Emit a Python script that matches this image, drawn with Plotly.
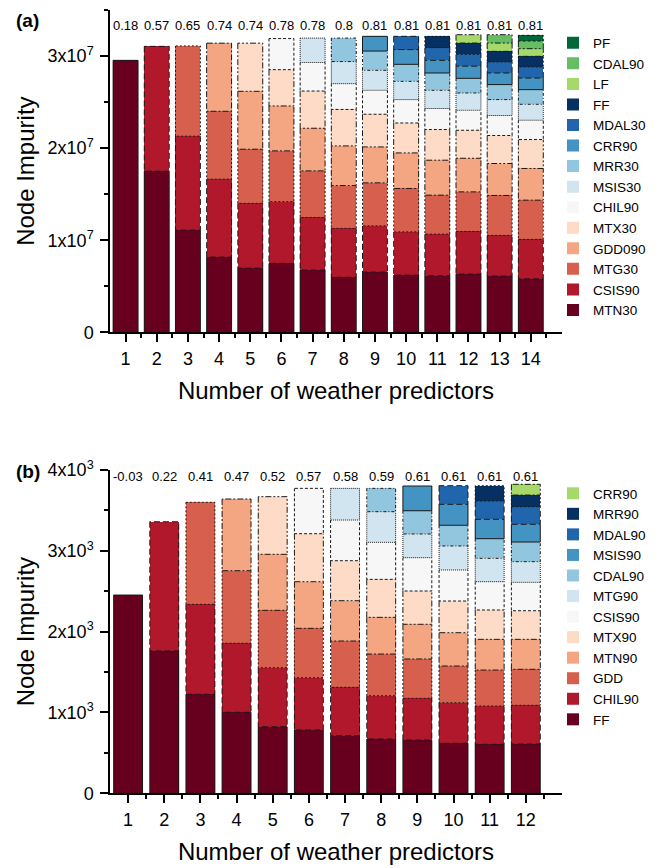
import plotly.graph_objects as go

N = None

# ---------------- panel (a) data ----------------
a_x = list(range(1, 15))
a_names = ["MTN30", "CSIS90", "MTG30", "GDD090", "MTX30", "CHIL90", "MSIS30",
           "MRR30", "CRR90", "MDAL30", "FF", "LF", "CDAL90", "PF"]
a_MTN30 = [2.953e7, 1.75e7, 1.11e7, 0.817e7, 0.697e7, 0.748e7, 0.676e7, 0.597e7, 0.654e7, 0.621e7, 0.614e7, 0.632e7, 0.611e7, 0.581e7]
a_CSIS90 = [N, 1.355e7, 1.02e7, 0.846e7, 0.703e7, 0.672e7, 0.571e7, 0.531e7, 0.502e7, 0.47e7, 0.452e7, 0.463e7, 0.441e7, 0.428e7]
a_MTG30 = [N, N, 0.98e7, 0.737e7, 0.588e7, 0.55e7, 0.506e7, 0.466e7, 0.467e7, 0.471e7, 0.423e7, 0.43e7, 0.434e7, 0.426e7]
a_GDD090 = [N, N, N, 0.74e7, 0.629e7, 0.488e7, 0.463e7, 0.43e7, 0.39e7, 0.386e7, 0.38e7, 0.365e7, 0.347e7, 0.344e7]
a_MTX30 = [N, N, N, N, 0.523e7, 0.394e7, 0.404e7, 0.396e7, 0.355e7, 0.325e7, 0.333e7, 0.304e7, 0.304e7, 0.314e7]
a_CHIL90 = [N, N, N, N, N, 0.338e7, 0.31e7, 0.28e7, 0.26e7, 0.254e7, 0.228e7, 0.217e7, 0.217e7, 0.21e7]
a_MSIS30 = [N, N, N, N, N, N, 0.265e7, 0.24e7, 0.217e7, 0.198e7, 0.198e7, 0.188e7, 0.173e7, 0.173e7]
a_MRR30 = [N, N, N, N, N, N, N, 0.255e7, 0.209e7, 0.185e7, 0.188e7, 0.159e7, 0.163e7, 0.159e7]
a_CRR90 = [N, N, N, N, N, N, N, N, 0.16e7, 0.16e7, 0.137e7, 0.132e7, 0.126e7, 0.126e7]
a_MDAL30 = [N, N, N, N, N, N, N, N, N, 0.144e7, 0.138e7, 0.128e7, 0.119e7, 0.12e7]
a_FF = [N, N, N, N, N, N, N, N, N, N, 0.123e7, 0.123e7, 0.116e7, 0.116e7]
a_LF = [N, N, N, N, N, N, N, N, N, N, N, 0.091e7, 0.09e7, 0.083e7]
a_CDAL90 = [N, N, N, N, N, N, N, N, N, N, N, N, 0.091e7, 0.083e7]
a_PF = [N, N, N, N, N, N, N, N, N, N, N, N, N, 0.062e7]
a_r = ["0.18", "0.57", "0.65", "0.74", "0.74", "0.78", "0.78", "0.8",
       "0.81", "0.81", "0.81", "0.81", "0.81", "0.81"]
a_tickvals = [0, 1e7, 2e7, 3e7]
a_ticktext = ["0", "1x10<sup>7</sup>", "2x10<sup>7</sup>", "3x10<sup>7</sup>"]
a_minor = [0.5e7, 1.5e7, 2.5e7, 3.5e7]

# ---------------- panel (b) data ----------------
b_x = list(range(1, 13))
b_names = ["FF", "CHIL90", "GDD", "MTN90", "MTX90", "CSIS90", "MTG90",
           "CDAL90", "MSIS90", "MDAL90", "MRR90", "CRR90"]
b_FF = [2453, 1762, 1225, 1002, 824, 783, 713, 672, 659, 619, 606, 610]
b_CHIL90 = [N, 1598, 1113, 854, 730, 647, 598, 535, 516, 502, 474, 479]
b_GDD = [N, N, 1262, 898, 710, 611, 573, 516, 487, 454, 445, 445]
b_MTN90 = [N, N, N, 887, 693, 577, 499, 454, 429, 412, 380, 371]
b_MTX90 = [N, N, N, N, 713, 594, 495, 470, 412, 392, 363, 354]
b_CSIS90 = [N, N, N, N, N, 561, 503, 458, 412, 384, 350, 351]
b_MTG90 = [N, N, N, N, N, N, 392, 379, 293, 297, 289, 256]
b_CDAL90 = [N, N, N, N, N, N, N, 289, 288, 256, 243, 243]
b_MSIS90 = [N, N, N, N, N, N, N, N, 306, 259, 240, 219]
b_MDAL90 = [N, N, N, N, N, N, N, N, N, 231, 226, 218]
b_MRR90 = [N, N, N, N, N, N, N, N, N, N, 190, 144]
b_CRR90 = [N, N, N, N, N, N, N, N, N, N, N, 133]
b_r = ["-0.03", "0.22", "0.41", "0.47", "0.52", "0.57", "0.58", "0.59",
       "0.61", "0.61", "0.61", "0.61"]
b_tickvals = [0, 1000, 2000, 3000, 4000]
b_ticktext = ["0", "1x10<sup>3</sup>", "2x10<sup>3</sup>", "3x10<sup>3</sup>", "4x10<sup>3</sup>"]
b_minor = [500, 1500, 2500, 3500]

# ---------------- styles ----------------
a_colors = ["#67001f", "#b2182b", "#d6604d", "#f4a582", "#fddbc7", "#f7f7f7", "#d1e5f0",
            "#92c5de", "#4393c3", "#2166ac", "#053061", "#a6d96a", "#66bd63", "#006837"]
b_colors = ["#67001f", "#b2182b", "#d6604d", "#f4a582", "#fddbc7", "#f7f7f7", "#d1e5f0",
            "#92c5de", "#4393c3", "#2166ac", "#053061", "#a6d96a"]
dash_cycle = ["solid", "6px,3px", "2px,2px", "6px,2px,2px,2px", "6px,2px,2px,2px,2px,2px",
              "3px,2px", "1px,1px", "3px,2px,1px,2px"]
BAR_W = 0.8
FONT = "Liberation Sans, Arial, sans-serif"

a_series = [a_MTN30, a_CSIS90, a_MTG30, a_GDD090, a_MTX30, a_CHIL90, a_MSIS30,
            a_MRR30, a_CRR90, a_MDAL30, a_FF, a_LF, a_CDAL90, a_PF]
b_series = [b_FF, b_CHIL90, b_GDD, b_MTN90, b_MTX90, b_CSIS90, b_MTG90,
            b_CDAL90, b_MSIS90, b_MDAL90, b_MRR90, b_CRR90]


def outline(xs, series, k):
    px, py = [], []
    for i, xv in enumerate(xs):
        v = series[k][i]
        if v is None:
            continue
        base = sum(series[j][i] for j in range(k) if series[j][i] is not None)
        top = base + v
        is_top = all(series[j][i] is None for j in range(k + 1, len(series)))
        x0, x1 = xv - BAR_W / 2, xv + BAR_W / 2
        if is_top:
            px += [x0, x0, x1, x1, x0, None]
            py += [top, base, base, top, top, None]
        else:
            px += [x0, x0, x1, x1, None]
            py += [top, base, base, top, None]
    return px, py


fig = go.Figure()


def add_panel(xs, names, series, colors, xa, ya, legend):
    for k, (nm, vals) in enumerate(zip(names, series)):
        fig.add_trace(go.Bar(x=xs, y=vals, name=nm, width=BAR_W,
                             marker=dict(color=colors[k], line=dict(width=0)),
                             xaxis=xa, yaxis=ya, legend=legend, hoverinfo="skip"))
    for k in range(len(series)):
        px, py = outline(xs, series, k)
        fig.add_trace(go.Scatter(x=px, y=py, mode="lines", showlegend=False,
                                 line=dict(color="#1a1a1a", width=1, dash=dash_cycle[k % 8]),
                                 xaxis=xa, yaxis=ya, hoverinfo="skip"))


add_panel(a_x, a_names, a_series, a_colors, "x", "y", "legend")
add_panel(b_x, b_names, b_series, b_colors, "x2", "y2", "legend2")

X_DOM = [110 / 667, 562 / 667]
common_x = dict(showline=True, linecolor="black", linewidth=1.5, ticks="outside",
                ticklen=8, tickwidth=1.5, tickcolor="black", showgrid=False, zeroline=False,
                tickfont=dict(size=18, color="black"), ticklabelstandoff=1, automargin=False,
                title=dict(text="Number of weather predictors", font=dict(size=24, color="black"),
                           standoff=15))
common_y = dict(showline=True, linecolor="black", linewidth=1.5, ticks="outside",
                ticklen=8, tickwidth=1.5, tickcolor="black", showgrid=False, zeroline=False,
                tickfont=dict(size=18, color="black"), ticklabelstandoff=3, automargin=False,
                title=dict(text="Node Impurity", font=dict(size=24, color="black"), standoff=6))

fig.update_layout(
    width=667, height=868, margin=dict(l=0, r=0, t=0, b=0, autoexpand=False),
    plot_bgcolor="white", paper_bgcolor="white",
    font=dict(family=FONT, color="black"),
    barmode="stack", showlegend=True,
    xaxis=dict(domain=X_DOM, range=[0.5, 15], tickvals=a_x, anchor="y",
               minor=dict(tickvals=[v + 0.5 for v in a_x], ticklen=4, tickwidth=1.5,
                          tickcolor="black", ticks="outside"), **common_x),
    yaxis=dict(domain=[(868 - 332.3) / 868, (868 - 10) / 868], range=[0, 3.5e7], anchor="x",
               tickvals=a_tickvals, ticktext=a_ticktext,
               minor=dict(tickvals=a_minor, ticklen=4, tickwidth=1.5, tickcolor="black",
                          ticks="outside"), **common_y),
    xaxis2=dict(domain=X_DOM, range=[0.5, 13], tickvals=b_x, anchor="y2",
                minor=dict(tickvals=[v + 0.5 for v in b_x], ticklen=4, tickwidth=1.5,
                           tickcolor="black", ticks="outside"), **common_x),
    yaxis2=dict(domain=[(868 - 793.3) / 868, (868 - 470) / 868], range=[0, 4000], anchor="x2",
                tickvals=b_tickvals, ticktext=b_ticktext,
                minor=dict(tickvals=b_minor, ticklen=4, tickwidth=1.5, tickcolor="black",
                           ticks="outside"), **common_y),
    legend=dict(x=553 / 667, xanchor="left", y=1 - 27.5 / 868, yanchor="top",
                traceorder="reversed", font=dict(size=13.5), bgcolor="rgba(0,0,0,0)"),
    legend2=dict(x=553 / 667, xanchor="left", y=1 - 478 / 868, yanchor="top",
                 traceorder="reversed", font=dict(size=13.5), bgcolor="rgba(0,0,0,0)"),
)

ann = []
for xv, t in zip(a_x, a_r):
    ann.append(dict(x=xv, y=0.953, xref="x", yref="y domain", text=t, showarrow=False,
                    yanchor="middle", font=dict(size=13)))
for xv, t in zip(b_x, b_r):
    ann.append(dict(x=xv, y=0.981, xref="x2", yref="y2 domain", text=t, showarrow=False,
                    yanchor="middle", font=dict(size=13)))
ann.append(dict(x=14 / 667, y=1 - 20 / 868, xref="paper", yref="paper", text="<b>(a)</b>",
                showarrow=False, xanchor="left", yanchor="middle", font=dict(size=19)))
ann.append(dict(x=14 / 667, y=1 - 471 / 868, xref="paper", yref="paper", text="<b>(b)</b>",
                showarrow=False, xanchor="left", yanchor="middle", font=dict(size=19)))
fig.update_layout(annotations=ann)

fig.write_html("out.html", config={"displayModeBar": False},
               post_script="document.body.style.margin='0px';document.body.style.overflow='hidden';")
